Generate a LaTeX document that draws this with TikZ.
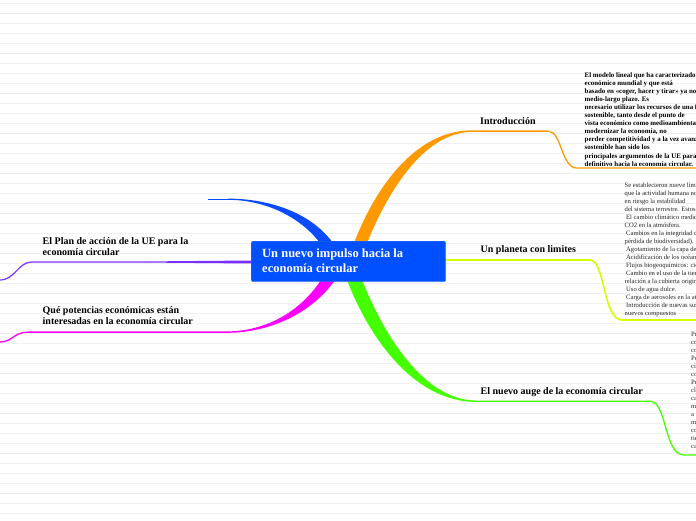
\documentclass[tikz,border=0pt]{standalone}
\usepackage{fontspec}
\setmainfont{Liberation Serif}
\usetikzlibrary{calc}
\definecolor{bluebr}{HTML}{0A4BFF}
\definecolor{corefill}{HTML}{0050FF}
\definecolor{orangebr}{HTML}{FF9900}
\definecolor{yellowbr}{HTML}{D4FF00}
\definecolor{greenbr}{HTML}{44FF00}
\definecolor{magbr}{HTML}{FF00FF}
\definecolor{purpbr}{HTML}{7A2EFF}
\definecolor{bgl}{HTML}{F0F0F0}
\tikzset{
  bgline/.style={draw=bgl, line width=0.8pt},
  lbl/.style={font=\fontsize{10}{11}\selectfont\bfseries, anchor=base west, inner sep=0pt, align=left},
  blockA/.style={font=\fontsize{6.9}{8.1}\selectfont\bfseries, anchor=base west, inner sep=0pt, align=left},
  blockB/.style={font=\fontsize{6.6}{8}\selectfont, anchor=base west, inner sep=0pt, align=left, text=black!85},
  corebox/.style={fill=corefill, draw=corefill!80!white, line width=0.4pt, rounded corners=2pt, anchor=north west, minimum width=194.5pt, minimum height=40.5pt, inner sep=0pt},
  coretext/.style={font=\fontsize{12.5}{15}\selectfont\bfseries, text=white, anchor=base west, inner sep=0pt, align=left},
  thin/.style={line width=1.3pt}
}
\begin{document}
\begin{tikzpicture}[x=1pt,y=-1pt]
\useasboundingbox (0,0) rectangle (696,520);
\clip (0,0) rectangle (696,520);
\fill[white] (0,0) rectangle (696,520);
\foreach \yy in {3,13,...,513} \draw[bgline] (0,\yy) -- (696,\yy);

% coordinates
\coordinate (bEnd) at (208,199.2);
\coordinate (bMid) at (228,199.2);
\coordinate (oMid) at (472,131.1);
\coordinate (oEnd) at (700,168);
\coordinate (yStart) at (444,260);
\coordinate (yEnd) at (700,320);
\coordinate (gMid) at (476,401.2);
\coordinate (gEnd) at (700,455);
\coordinate (mMid) at (228,332.1);
\coordinate (mEnd) at (0,342);
\coordinate (pMid) at (150,262);
\coordinate (pEnd) at (0,280);

% blue branch
\draw[bluebr, line width=1.2pt] (bEnd) -- (bMid);
\fill[bluebr] (228,198.6) .. controls (272,198.8) and (312,214) .. (333,243) -- (320,243) .. controls (302,219) and (268,200) .. (228,199.8) -- cycle;

% orange branch
\fill[orangebr] (354,243) .. controls (380,176) and (422,130.3) .. (472,130.3) -- (472,131.9) .. controls (428,132.2) and (392,182) .. (367,243) -- cycle;
\draw[orangebr, thin] (oMid) -- (548,131.1) .. controls (562,131.1) and (561,168) .. (577,168) -- (oEnd);

% yellow branch
\draw[yellowbr, line width=1.6pt] (yStart) -- (590,260) .. controls (605,260) and (603,320) .. (622,320) -- (yEnd);

% green branch
\fill[greenbr] (347,280) .. controls (372,345) and (418,401.9) .. (476,401.9) -- (476,400.5) .. controls (426,400.3) and (386,340) .. (362,280) -- cycle;
\draw[greenbr, thin] (gMid) -- (650,401.2) .. controls (667,401.2) and (664,455) .. (684,455) -- (gEnd);

% magenta branch
\fill[magbr] (321,280) .. controls (300,312) and (266,330.8) .. (228,331.4) -- (228,332.8) .. controls (270,332.6) and (312,313) .. (335,280) -- cycle;
\draw[magbr, thin] (mMid) -- (28,332.1) .. controls (14,332.1) and (12,342) .. (mEnd);

% purple branch
\fill[purpbr] (150,261.4) -- (253,260.5) -- (253,263.5) -- (150,262.6) -- cycle;
\draw[purpbr, line width=1.2pt] (pMid) -- (32,262) .. controls (18,262) and (15,280) .. (pEnd);

% central node
\node[corebox] (core) at (251,241) {};
\node[coretext] (coreT) at (262,272) {Un nuevo impulso hacia la\\economía circular};

% labels
\node[lbl] (intro) at (480,124) {Introducción};
\node[lbl] (planeta) at (480.5,252) {Un planeta con limites};
\node[lbl] (auge) at (480.5,394.5) {El nuevo auge de la economía circular};
\node[lbl] (plan) at (42.5,255) {El Plan de acción de la UE para la\\economía circular};
\node[lbl] (potencias) at (42.5,324.5) {Qué potencias económicas están\\interesadas en la economía circular};

% text blocks
\node[blockA] (introT) at (584.5,166.1) {El modelo lineal que ha caracterizado el crecimiento\\
económico mundial y que está\\
basado en «coger, hacer y tirar» ya no es viable a\\
medio-largo plazo. Es\\
necesario utilizar los recursos de una forma más\\
sostenible, tanto desde el punto de\\
vista económico como medioambiental. La necesidad de\\
modernizar la economía, no\\
perder competitividad y a la vez avanzar hacia un modelo\\
sostenible han sido los\\
principales argumentos de la UE para dar el paso\\
definitivo hacia la economía circular.};

\node[blockB] (planetaT) at (624.5,315.5) {Se establecieron nueve límites\\
que la actividad humana no debe superar\\
en riesgo la estabilidad\\
del sistema terrestre. Estos son:\\
\hspace{1.5pt}El cambio climático medido en\\
CO2 en la atmósfera.\\
\hspace{1.5pt}Cambios en la integridad de la biosfera\\
pérdida de biodiversidad).\\
\hspace{1.5pt}Agotamiento de la capa de ozono.\\
\hspace{1.5pt}Acidificación de los océanos.\\
\hspace{1.5pt}Flujos biogeoquímicos: ciclos\\
\hspace{1.5pt}Cambio en el uso de la tierra en\\
relación a la cubierta original.\\
\hspace{1.5pt}Uso de agua dulce.\\
\hspace{1.5pt}Carga de aerosoles en la atmósfera.\\
\hspace{1.5pt}Introducción de nuevas sustancias y\\
nuevos compuestos};

\node[blockB] (augeT) at (691,448) {Propuesta de la UE para una\\
consolidar una economía\\
competitiva y sostenible.\\
Por ello, se aprobó el plan de\\
circularidad, que\\
contempla medidas en\\
Producción, consumo,\\
claves para cerrar el\\
cadena de valor de los productos,\\
mediante un mayor reciclaje\\
a través de la\\
mejora de la gestión de residuos\\
con el fin de\\
tiene como objetivo\\
cambiar el modelo.};
\end{tikzpicture}
\end{document}
